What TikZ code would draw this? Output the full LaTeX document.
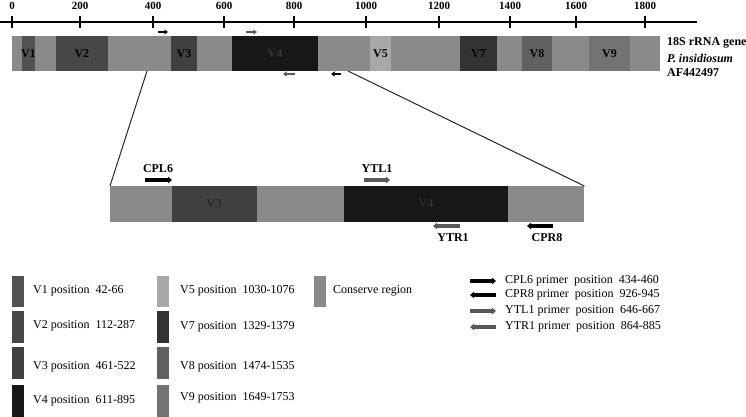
\documentclass[tikz,border=0pt]{standalone}
\usepackage{fontspec}
\setmainfont{Liberation Serif}
\usetikzlibrary{arrows.meta,positioning,calc}
\definecolor{consgray}{gray}{0.54}
\definecolor{vone}{gray}{0.32}
\definecolor{vtwo}{gray}{0.28}
\definecolor{vthree}{gray}{0.25}
\definecolor{vfour}{gray}{0.09}
\definecolor{vfive}{gray}{0.66}
\definecolor{vseven}{gray}{0.2}
\definecolor{veight}{gray}{0.38}
\definecolor{vnine}{gray}{0.45}
\definecolor{primgray}{gray}{0.35}

\begin{document}
\begin{tikzpicture}[
    x=1pt, y=-1pt,
    every node/.style={font=\fontsize{12}{14}\selectfont, inner sep=0pt},
    seglabel/.style={font=\fontsize{12}{14}\selectfont\bfseries},
    ticklabel/.style={font=\fontsize{11}{13}\selectfont\bfseries},
    bar/.style={fill=consgray, anchor=north west, minimum height=35pt},
    smallprimer/.style={line width=2.6pt, -{Triangle[length=3.5pt,width=5pt]}},
    primer/.style={line width=3.6pt, -{Triangle[length=4pt,width=6.5pt]}},
    swatch/.style={anchor=north west, minimum width=12pt}
]
\useasboundingbox (0,0) rectangle (746,417);

% ---- position axis ----
\draw[line width=1.4pt] (0,22) -- (697,22);
\foreach \n/\px in {0/12,200/80,400/153,600/224,800/294,1000/366,1200/439,1400/510,1600/576,1800/645}{
  \draw[line width=1.4pt] (\px,16) -- (\px,28);
  \node[ticklabel] (tick-\n) at (\px,6) {\n};
}

% ---- full 18S rRNA gene ----
\node[bar, minimum width=648pt] (gene) at (12,36) {};
\foreach \a/\b/\c/\t in {21.7/35/vone/V1, 55.7/108/vtwo/V2, 171/197/vthree/V3,
                         370/391/vfive/V5, 460/497/vseven/V7, 522/552/veight/V8, 589/630/vnine/V9}{
  \fill[\c] (\a,36) rectangle (\b,71);
  \node[seglabel] (gene-\t) at ({(\a+\b)/2},53.5) {\t};
}
\fill[vfour] (232,36) rectangle (318,71);
\node[seglabel, text=black!78] (gene-V4) at (275,53.5) {V4};

\node[seglabel, anchor=west] (genename) at (667,43) {18S rRNA gene};
\node[seglabel, anchor=west] (species) at (667,58) {\itshape P. insidiosum};
\node[seglabel, anchor=west] (accession) at (667,73) {AF442497};

\draw[smallprimer, black] (158,32) -- (168,32);
\draw[smallprimer, primgray] (246,32) -- (257,32);
\draw[smallprimer, primgray] (295,74) -- (283,74);
\draw[smallprimer, black] (341,74) -- (331,74);

% ---- enlarged V3-V4 region ----
\node[bar, minimum width=474pt, minimum height=36pt] (zoom) at (110,186) {};
\fill[vthree] (172,186) rectangle (257,222);
\fill[vfour] (344,186) rectangle (508,222);
\node[text=black!88] (zoom-V3) at (214,204) {V3};
\node[text=black!78] (zoom-V4) at (426,204) {V4};

\coordinate (cut-l) at (147,71);
\coordinate (cut-r) at (348,71);
\draw[black!85, line width=1pt] (cut-l) -- (zoom.north west);
\draw[black!85, line width=1pt] (cut-r) -- (zoom.north east);

\draw[primer, black] (145,180) -- (172,180);
\node[seglabel] (cpl6) at (158,169) {CPL6};
\draw[primer, primgray] (364,180) -- (390,180);
\node[seglabel] (ytl1) at (377,169) {YTL1};
\draw[primer, primgray] (460,226) -- (433,226);
\node[seglabel] (ytr1) at (453,238) {YTR1};
\draw[primer, black] (553,226) -- (527,226);
\node[seglabel] (cpr8) at (547,238) {CPR8};

% ---- legend: variable regions ----
\foreach \col/\y/\h in {vone/276/31, vtwo/311/32, vthree/347/32, vfour/385/32}
  \node[swatch, fill=\col, minimum height=\h pt] at (12,\y) {};
\foreach \col/\y/\h in {vfive/276/31, vseven/311/32, veight/347/32, vnine/385/32}
  \node[swatch, fill=\col, minimum height=\h pt] at (157,\y) {};
\node[swatch, fill=consgray, minimum height=31pt] (sw-cons) at (314,276) {};

\node[anchor=west] (leg-V1) at (33,291) {V1 position\ \ 42-66};
\node[anchor=west] (leg-V2) at (33,326) {V2 position\ \ 112-287};
\node[anchor=west] (leg-V3) at (33,367) {V3 position\ \ 461-522};
\node[anchor=west] (leg-V4) at (33,401) {V4 position\ \ 611-895};
\node[anchor=west] (leg-V5) at (180,291) {V5 position\ \ 1030-1076};
\node[anchor=west] (leg-V7) at (180,327) {V7 position\ \ 1329-1379};
\node[anchor=west] (leg-V8) at (180,367) {V8 position\ \ 1474-1535};
\node[anchor=west] (leg-V9) at (180,398) {V9 position\ \ 1649-1753};
\node[anchor=west] (leg-cons) at (333,291) {Conserve region};

% ---- legend: primers ----
\draw[primer, black] (470,281) -- (496,281);
\draw[primer, black] (496,295) -- (470,295);
\draw[primer, primgray] (470,311) -- (496,311);
\draw[primer, primgray] (496,327) -- (470,327);
\node[anchor=west] (leg-cpl6) at (505,281) {CPL6 primer\ \ position\ \ 434-460};
\node[anchor=west] (leg-cpr8) at (505,295) {CPR8 primer\ \ position\ \ 926-945};
\node[anchor=west] (leg-ytl1) at (505,311) {YTL1 primer\ \ position\ \ 646-667};
\node[anchor=west] (leg-ytr1) at (505,327) {YTR1 primer\ \ position\ \ 864-885};
\end{tikzpicture}
\end{document}
